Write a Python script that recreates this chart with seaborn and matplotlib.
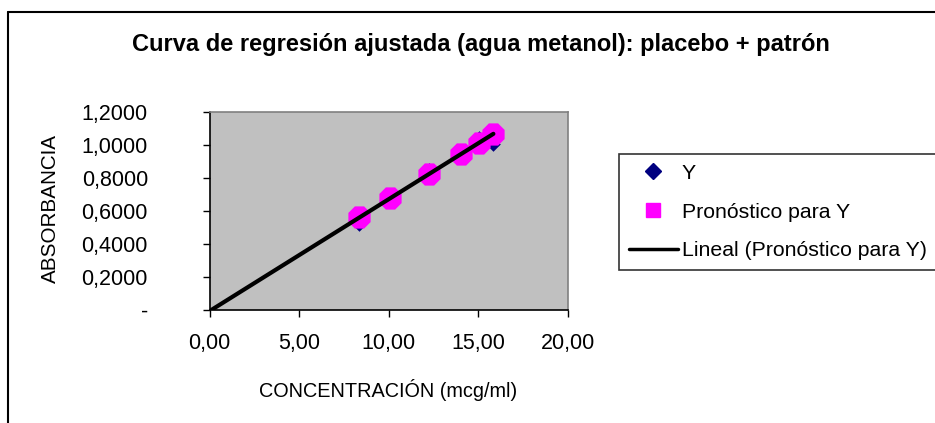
import numpy as np
import pandas as pd
import matplotlib
matplotlib.use("Agg")
import matplotlib.pyplot as plt
from matplotlib.lines import Line2D
from matplotlib.ticker import FuncFormatter
import seaborn as sns

# Calibration data: concentration vs absorbance
concentracion = [8.36, 10.08, 12.27, 14.04, 15.06, 15.85]
absorbancia_y = [0.522, 0.675, 0.847, 0.945, 1.044, 1.008]
pronostico_y = [0.562, 0.677, 0.825, 0.946, 1.015, 1.071]

titulo = "Curva de regresión ajustada (agua metanol): placebo + patrón"
etiqueta_x = "CONCENTRACIÓN (mcg/ml)"
etiqueta_y = "ABSORBANCIA"
serie_y = "Y"
serie_pron = "Pronóstico para Y"
serie_lineal = "Lineal (Pronóstico para Y)"
xticks = [0, 5, 10, 15, 20]
yticks = [0, 0.2, 0.4, 0.6, 0.8, 1.0, 1.2]

sns.set_style("white")
plt.rcParams["font.family"] = ["Liberation Sans", "DejaVu Sans"]
plt.rcParams["text.color"] = "black"
plt.rcParams["axes.labelcolor"] = "black"
plt.rcParams["xtick.color"] = "black"
plt.rcParams["ytick.color"] = "black"

W, H = 935, 423
fig = plt.figure(figsize=(W / 100, H / 100), dpi=100)
fig.patch.set_facecolor("white")

def fx(px):
    return px / W

def fy(py):
    return 1 - py / H

ax = fig.add_axes([fx(209.5), fy(310), fx(567.7) - fx(209.5), fy(112.3) - fy(310)])
ax.set_facecolor("#C0C0C0")

df = pd.DataFrame({"x": concentracion, "y": absorbancia_y, "p": pronostico_y})

# Fitted linear trend of the forecast values, extended back to zero
pend, inter = np.polyfit(df["x"], df["p"], 1)
tx = np.array([0.0, df["x"].max()])
tend = pd.DataFrame({"x": tx, "y": pend * tx + inter})

sns.scatterplot(data=df, x="x", y="y", ax=ax, marker="D", s=55,
                color="#000080", edgecolor="#000080", linewidth=0, zorder=3)
sns.scatterplot(data=df, x="x", y="p", ax=ax, marker=(8, 0, 22.5), s=300,
                color="#FF00FF", edgecolor="#FF00FF", linewidth=0, zorder=4)
sns.lineplot(data=tend, x="x", y="y", ax=ax, color="black", linewidth=3,
             zorder=5)

ax.set_xlim(0, 20)
ax.set_ylim(0, 1.2)
ax.set_xticks(xticks)
ax.set_yticks(yticks)
ax.xaxis.set_major_formatter(FuncFormatter(lambda v, p: f"{v:.2f}".replace(".", ",")))
ax.yaxis.set_major_formatter(
    FuncFormatter(lambda v, p: "-" if abs(v) < 1e-9 else f"{v:.4f}".replace(".", ",")))
ax.tick_params(axis="both", direction="out", length=4.8, width=1, color="black",
               labelsize=15.5, labelcolor="black", left=True, bottom=True)
ax.tick_params(axis="x", pad=11.5)
ax.tick_params(axis="y", pad=39.5)
for lab in ax.get_yticklabels():
    lab.set_horizontalalignment("right")

for s in ["left", "bottom"]:
    ax.spines[s].set_color("black")
    ax.spines[s].set_linewidth(1.2)
for s in ["top", "right"]:
    ax.spines[s].set_color("#808080")
    ax.spines[s].set_linewidth(1.2)

ax.set_xlabel("")
ax.set_ylabel("")
fig.text(fx(388), fy(390), etiqueta_x, ha="center", va="center", fontsize=14.3)
fig.text(fx(50), fy(208), etiqueta_y, ha="center", va="center", fontsize=14.9,
         rotation=90)
fig.text(fx(481), fy(45), titulo, ha="center", va="center", fontsize=17,
         fontweight="bold")

# Chart area border (left and top edges)
fig.add_artist(Line2D([fx(7.5), fx(7.5)], [0, fy(12.5)], transform=fig.transFigure,
                      color="black", linewidth=1.5))
fig.add_artist(Line2D([fx(7.5), 1], [fy(12.5), fy(12.5)], transform=fig.transFigure,
                      color="black", linewidth=1.5))

handles = [
    Line2D([], [], linestyle="none", marker="D", markersize=8.5,
           markerfacecolor="#000080", markeredgecolor="#000080"),
    Line2D([], [], linestyle="none", marker="s", markersize=10,
           markerfacecolor="#FF00FF", markeredgecolor="#FF00FF"),
    Line2D([], [], color="black", linewidth=2.5),
]
leg = fig.legend(handles, [serie_y, serie_pron, serie_lineal],
                 loc="upper left", bbox_to_anchor=(fx(619), fy(154)),
                 frameon=True, fancybox=False, fontsize=15.3,
                 handlelength=2.3, handletextpad=0.2, labelspacing=0.93,
                 borderpad=0.46, borderaxespad=0)
leg.get_frame().set_edgecolor("black")
leg.get_frame().set_linewidth(1.2)

fig.savefig("out.png", dpi=100)
